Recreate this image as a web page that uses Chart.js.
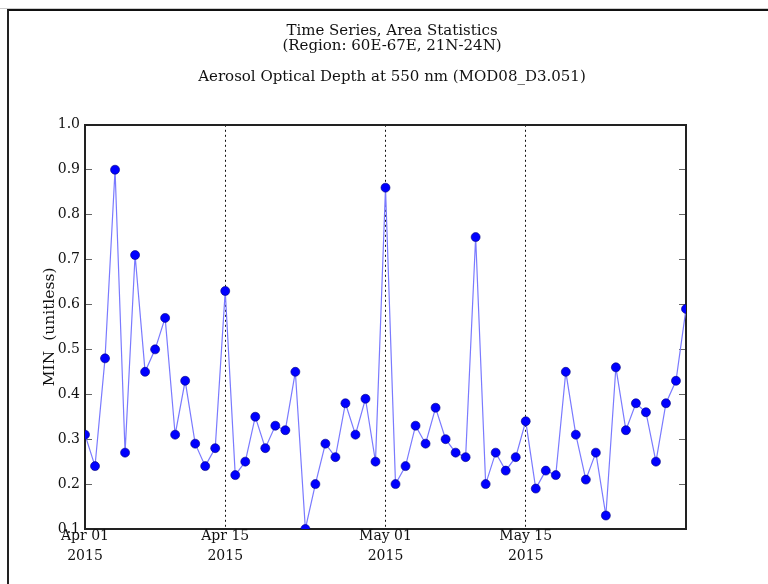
<!DOCTYPE html>
<html>
<head>
<meta charset="utf-8">
<script src="https://cdn.jsdelivr.net/npm/chart.js@4/dist/chart.umd.min.js"></script>
<style>
  html, body { margin: 0; padding: 0; background: #fff; }
  #wrap { position: relative; width: 768px; height: 584px; overflow: hidden; }
  #rule { position: absolute; left: 0; top: 8px; width: 768px; border-top: 1px solid #ccc; }
  #frame { position: absolute; left: 7px; top: 9px; width: 800px; height: 600px;
           border-top: 2px solid #111; border-left: 2px solid #222; }
  canvas { position: absolute; left: 0; top: 0; }
</style>
</head>
<body>
<div id="wrap">
  <div id="rule"></div>
  <div id="frame"></div>
  <canvas id="chart" width="768" height="584"></canvas>
</div>
<script>
// month names / lengths used to build the daily category labels
const monthNames = ['Apr', 'May'];
const monthLengths = [30, 31];
const yearLabel = '2015';
const majorDays = ['Apr 01', 'Apr 15', 'May 01', 'May 15'];

// MIN aerosol optical depth, one value per day Apr 01 .. May 31
const minValues = [
  0.31, 0.24, 0.48, 0.90, 0.27, 0.71, 0.45, 0.50, 0.57, 0.31,
  0.43, 0.29, 0.24, 0.28, 0.63, 0.22, 0.25, 0.35, 0.28, 0.33,
  0.32, 0.45, 0.10, 0.20, 0.29, 0.26, 0.38, 0.31, 0.39, 0.25,
  0.86, 0.20, 0.24, 0.33, 0.29, 0.37, 0.30, 0.27, 0.26, 0.75,
  0.20, 0.27, 0.23, 0.26, 0.34, 0.19, 0.23, 0.22, 0.45, 0.31,
  0.21, 0.27, 0.13, 0.46, 0.32, 0.38, 0.36, 0.25, 0.38, 0.43,
  0.59
];

const titleLines = [
  'Time Series, Area Statistics',
  '(Region: 60E-67E, 21N-24N)',
  '',
  'Aerosol Optical Depth at 550 nm (MOD08_D3.051)'
];
const yTitle = 'MIN  (unitless)';

const days = [];
monthNames.forEach((m, i) => {
  for (let d = 1; d <= monthLengths[i]; d++) {
    days.push(m + ' ' + String(d).padStart(2, '0'));
  }
});

const serif = "'DejaVu Serif', 'Liberation Serif', serif";

const ctx = document.getElementById('chart').getContext('2d');
new Chart(ctx, {
  type: 'line',
  data: {
    labels: days,
    datasets: [{
      data: minValues,
      borderColor: '#7a7aff',
      borderWidth: 1.2,
      pointRadius: 4.5,
      pointBackgroundColor: '#0000ff',
      pointBorderColor: '#00007a',
      pointBorderWidth: 0.6,
      tension: 0,
      clip: 0
    }]
  },
  options: {
    responsive: false,
    animation: false,
    layout: { padding: { left: 16, right: 0, top: 0, bottom: 0 } },
    plugins: {
      legend: { display: false },
      tooltip: { enabled: false },
      title: {
        display: true,
        text: titleLines,
        color: '#111',
        font: { family: serif, size: 15, weight: 'normal', lineHeight: 1.03 },
        padding: { top: 23, bottom: 40 }
      }
    },
    scales: {
      x: {
        type: 'category',
        position: 'bottom',
        offset: false,
        afterFit: (s) => { s.height = 55; },
        grid: {
          display: true,
          drawTicks: false,
          offset: false,
          lineWidth: 1,
          color: (c) => {
            const lbl = days[c.index];
            return (c.index > 0 && majorDays.includes(lbl)) ? '#111' : 'rgba(0,0,0,0)';
          }
        },
        border: { display: true, color: '#222', width: 2, dash: [2, 3] },
        ticks: {
          autoSkip: false,
          maxRotation: 0,
          padding: -3,
          color: '#111',
          font: { family: serif, size: 14, lineHeight: 1.43 },
          callback: (val, idx) => majorDays.includes(days[idx]) ? [days[idx], yearLabel] : ''
        }
      },
      xTop: {
        type: 'category',
        position: 'top',
        afterFit: (s) => { s.height = 0; },
        grid: { display: false },
        ticks: { display: false },
        border: { display: true, color: '#222', width: 2 }
      },
      y: {
        position: 'left',
        min: 0.1,
        max: 1.0,
        afterFit: (s) => { s.width = 69; },
        grid: {
          drawOnChartArea: false,
          drawTicks: true,
          tickLength: -7,
          tickColor: '#666',
          tickWidth: 1
        },
        border: { display: true, color: '#222', width: 2 },
        ticks: {
          stepSize: 0.1,
          padding: 12,
          color: '#111',
          font: { family: serif, size: 14 },
          callback: (v) => v.toFixed(1)
        },
        title: {
          display: true,
          text: yTitle,
          color: '#111',
          font: { family: serif, size: 15.5 },
          padding: { top: 25, bottom: 0 }
        }
      },
      yRight: {
        position: 'right',
        min: 0.1,
        max: 1.0,
        afterFit: (s) => { s.width = 82; },
        grid: {
          drawOnChartArea: false,
          drawTicks: true,
          tickLength: -7,
          tickColor: '#666',
          tickWidth: 1
        },
        border: { display: true, color: '#222', width: 2 },
        ticks: { stepSize: 0.1, display: false }
      }
    }
  }
});
</script>
</body>
</html>
